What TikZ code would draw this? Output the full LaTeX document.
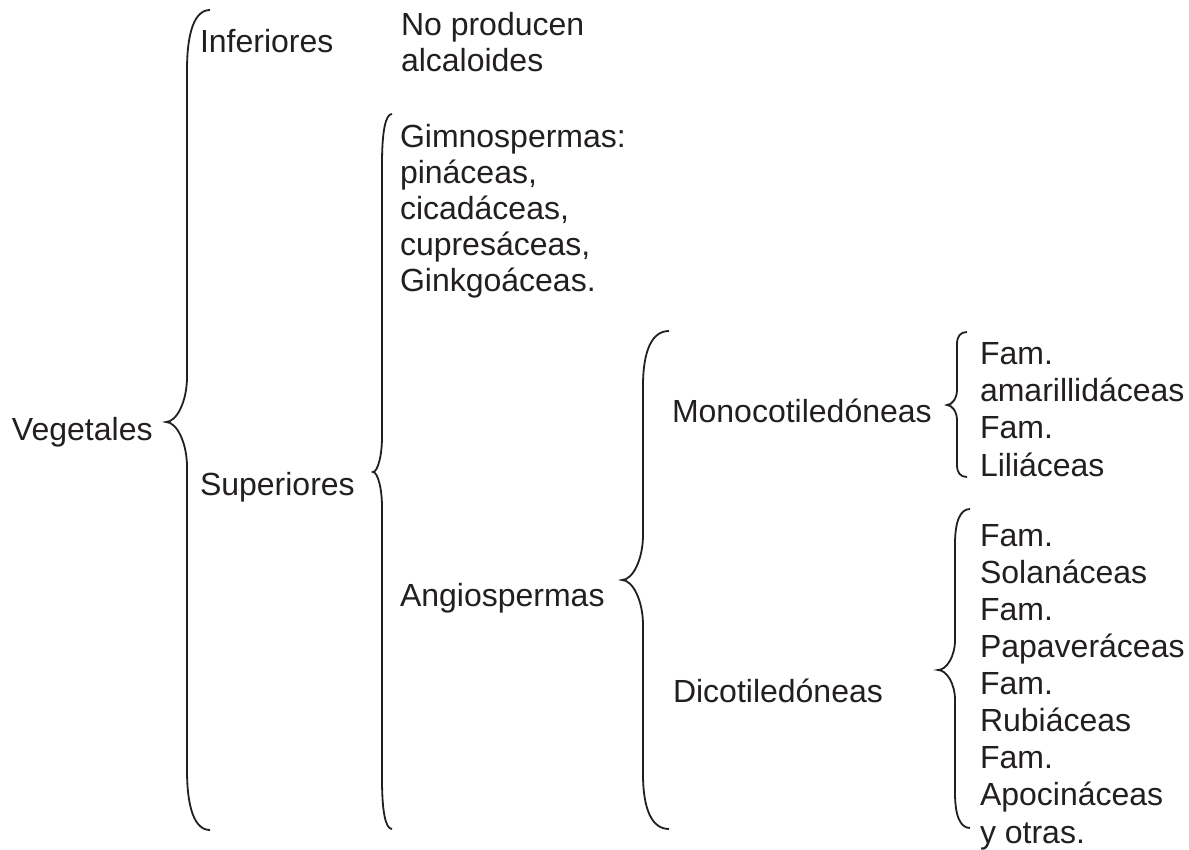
\documentclass[tikz,border=0pt]{standalone}
\usepackage{fontspec}
\setmainfont{Liberation Sans}
\definecolor{ink}{HTML}{231F20}
\newcommand\Brace[8]{%
  \draw[bracestyle] (#1,#2) .. controls ({#3+0.35*(#1-#3)},#2) and (#3,{#2+0.35*#7}) .. (#3,{#2+#7})
  -- (#3,{#5-#8}) .. controls (#3,{#5-0.45*#8}) and ({#4+0.5*(#3-#4)},#5) .. (#4,#5)
  .. controls ({#4+0.5*(#3-#4)},#5) and (#3,{#5+0.45*#8}) .. (#3,{#5+#8})
  -- (#3,{#6-#7}) .. controls (#3,{#6-0.35*#7}) and ({#3+0.35*(#1-#3)},#6) .. (#1,#6);}
\begin{document}
\begin{tikzpicture}[x=1pt,y=-1pt,
  bracestyle/.style={draw=ink,line width=1.8pt},
  lbl/.style={anchor=base west,inner sep=0pt,outer sep=0pt,text=ink,align=left,
    font=\fontsize{32}{36.5}\selectfont},
  listlbl/.style={lbl,font=\fontsize{32}{37.1}\selectfont}]
\useasboundingbox[fill=white] (0,0) rectangle (1189,850);
% braces
\Brace{210}{10}{187}{166}{422}{830}{60}{45}
\Brace{392}{114}{382}{373}{472}{829}{50}{35}
\Brace{669}{331}{643}{622}{580}{829}{55}{45}
\Brace{967}{332}{957}{947}{405}{477}{12}{15}
\Brace{970}{509}{955}{938}{670}{828}{35}{30}
% texts (base anchor = baseline of the last line)
\node[lbl] (veg) at (12,440) {Vegetales};
\node[lbl] (inf) at (200,53) {Inferiores};
\node[lbl] (nop) at (401,72) {No producen\\alcaloides};
\node[lbl] (sup) at (200,495) {Superiores};
\node[lbl,font=\fontsize{32}{36}\selectfont] (gim) at (400,292) {Gimnospermas:\\pináceas,\\cicadáceas,\\cupresáceas,\\Ginkgoáceas.};
\node[lbl] (ang) at (400,606) {Angiospermas};
\node[lbl] (mono) at (672,422) {Monocotiledóneas};
\node[lbl] (dico) at (673,702) {Dicotiledóneas};
\node[listlbl] (monol) at (980,476) {Fam.\\amarillidáceas\\Fam.\\Liliáceas};
\node[listlbl] (dicol) at (980,843) {Fam.\\Solanáceas\\Fam.\\Papaveráceas\\Fam.\\Rubiáceas\\Fam.\\Apocináceas\\y otras.};
\end{tikzpicture}
\end{document}
